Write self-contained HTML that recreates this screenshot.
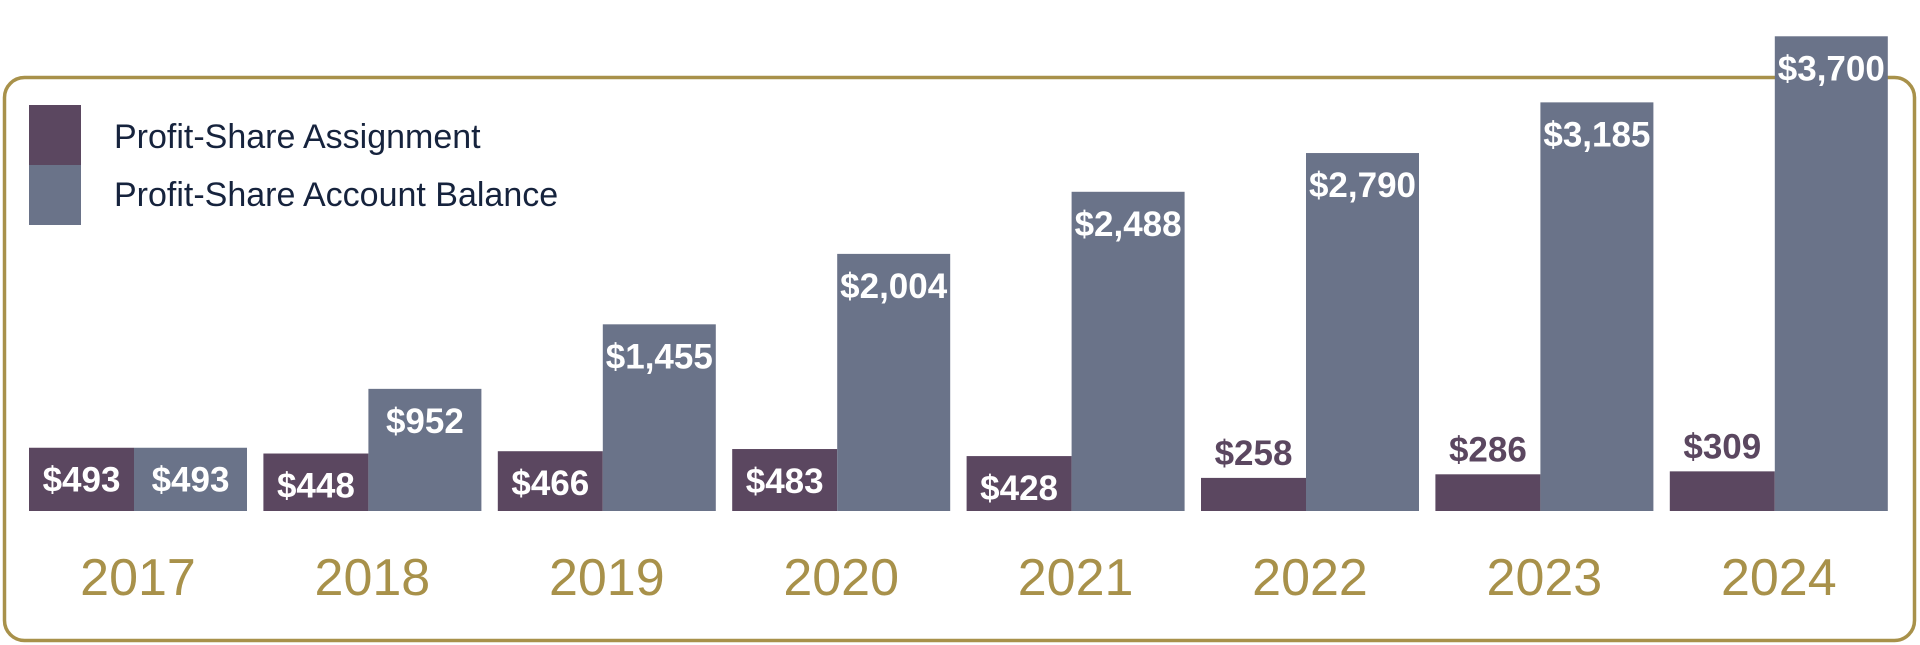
<!DOCTYPE html>
<html><head><meta charset="utf-8"><style>
html,body{margin:0;padding:0;background:#fff;width:1920px;height:645px;overflow:hidden}
svg{display:block}
</style></head><body>
<svg id="chart" width="1920" height="645" viewBox="0 0 1920 645" xmlns="http://www.w3.org/2000/svg">
<rect x="4.5" y="77.5" width="1910" height="563" rx="20" fill="none" stroke="#a8914a" stroke-width="3.5"/>
<g>
<rect x="29" y="105" width="52" height="60" fill="#5b4760"/>
<rect x="29" y="165" width="52" height="60" fill="#6a7389"/>
<text x="114" y="148" font-family="Liberation Sans, sans-serif" font-size="34" fill="#16233d">Profit-Share Assignment</text>
<text x="114" y="206" font-family="Liberation Sans, sans-serif" font-size="34" fill="#16233d">Profit-Share Account Balance</text>
</g>
<g id="bars"></g>
</svg>
<script>
const years = ["2017","2018","2019","2020","2021","2022","2023","2024"];
const assignment = [493,448,466,483,428,258,286,309];
const balance = [493,952,1455,2004,2488,2790,3185,3700];

const NS = "http://www.w3.org/2000/svg";
const g = document.getElementById("bars");
const baseY = 511;
const pxPerUnit = 0.1283;
function yScale(v){ return baseY - v*pxPerUnit; }
function xGroup(i){ return 29 + i*234.4; }
const wA = 105, wB = 113;
function fmt(v){ return "$" + v.toLocaleString("en-US"); }

function addText(x,y,txt,size,fill,weight){
  const t = document.createElementNS(NS,"text");
  t.setAttribute("x",x); t.setAttribute("y",y);
  t.setAttribute("text-anchor","middle");
  t.setAttribute("font-family","Liberation Sans, sans-serif");
  t.setAttribute("font-size",size);
  t.setAttribute("font-weight",weight);
  t.setAttribute("fill",fill);
  t.textContent = txt;
  g.appendChild(t);
  return t;
}

years.forEach((yr,i)=>{
  const x0 = xGroup(i);
  const ya = yScale(assignment[i]);
  const ra = document.createElementNS(NS,"rect");
  ra.setAttribute("x",x0); ra.setAttribute("y",ya);
  ra.setAttribute("width",wA); ra.setAttribute("height",baseY-ya);
  ra.setAttribute("fill","#5b4760");
  
  
  g.appendChild(ra);
  const yb = yScale(balance[i]);
  const rb = document.createElementNS(NS,"rect");
  rb.setAttribute("x",x0+wA); rb.setAttribute("y",yb);
  rb.setAttribute("width",wB); rb.setAttribute("height",baseY-yb);
  rb.setAttribute("fill","#6a7389");
  
  
  g.appendChild(rb);
  let la;
  if (baseY-ya >= 50) la = addText(x0+wA/2, ya+44, fmt(assignment[i]), 35, "#ffffff", "bold");
  else la = addText(x0+wA/2, ya-13, fmt(assignment[i]), 35, "#5b4760", "bold");
  
  
  const lb = addText(x0+wA+wB/2, yb+44, fmt(balance[i]), 35, "#ffffff", "bold");
  
  
  const ly = addText(x0+(wA+wB)/2, 595, yr, 52, "#a8914a", "normal");
  
  
});
</script>
</body></html>
